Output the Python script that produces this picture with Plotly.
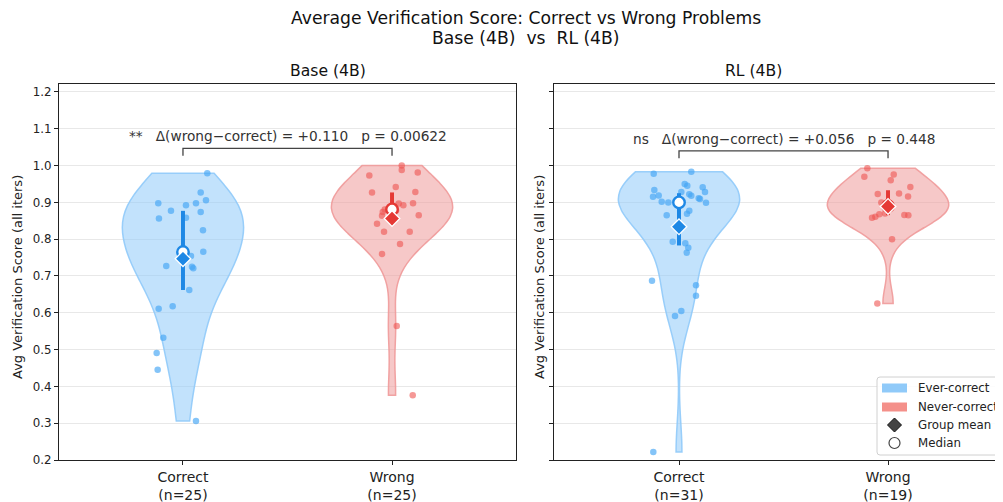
import numpy as np
import plotly.graph_objects as go

# ---------------- data ----------------
categories = ["Correct", "Wrong"]
panel_titles = ["Base (4B)", "RL (4B)"]

base_correct = [0.979, 0.927, 0.906, 0.898, 0.892, 0.898, 0.877, 0.874, 0.856, 0.858,
                0.824, 0.766, 0.754, 0.725, 0.721, 0.727, 0.662, 0.618, 0.611, 0.532,
                0.491, 0.445, 0.306, 0.765, 0.760]
base_correct_jit = [24.3, 17.7, 23, -24.7, 3, 13, -12, 17.7, -24, 3,
                    20, 20.3, 8, 9, 10.3, -16.7, 6.3, -10.3, -24.3, -19.7,
                    -26.3, -25.3, 13, 0, 2]

base_wrong = [1.0, 0.988, 0.973, 0.981, 0.942, 0.927, 0.928, 0.897, 0.892, 0.898,
              0.881, 0.874, 0.864, 0.865, 0.842, 0.820, 0.820, 0.787, 0.760, 0.564,
              0.376, 0.890, 0.885, 0.878, 0.870]
base_wrong_jit = [9.7, 9.7, -22.7, 25.7, 3.7, -20, 23.3, 6.7, 11.3, 21,
                  -7.3, -9.3, -10, 26.7, -15, -8, 17.7, 8, -10, 4.7,
                  20.7, 2, -2, 4, 0]

rl_correct = [0.978, 0.983, 0.950, 0.945, 0.941, 0.934, 0.928, 0.928, 0.919, 0.915,
              0.922, 0.918, 0.911, 0.909, 0.902, 0.900, 0.899, 0.900, 0.877, 0.869,
              0.865, 0.793, 0.789, 0.777, 0.763, 0.687, 0.675, 0.646, 0.605, 0.591,
              0.222]
rl_correct_jit = [-25.3, 12.3, 5.7, 8.3, 23.7, -24.7, 26, 2.3, -20.3, -26,
                  10.3, 12.3, 19.7, 21, -17.3, -10.7, 27, 0, 10.3, 8,
                  -12.3, -6.3, 6.3, 9.3, 7.7, -27, 17, 17, 2.3, -4,
                  -25.7]

rl_wrong = [0.993, 0.970, 0.976, 0.960, 0.942, 0.924, 0.916, 0.923, 0.900, 0.866,
            0.865, 0.858, 0.861, 0.868, 0.800, 0.625, 0.890, 0.885, 0.870]
rl_wrong_jit = [-20.7, -23.7, 5.7, 2.7, 22.3, 11, 20, -10.3, -6.7, 16.3,
                20.3, -16, -12.7, -8.7, 4, -10.7, 0, 3, -3]

deltas = ["+0.110", "+0.056"]
pvals = ["0.00622", "0.448"]
sig = ["**", "ns"]

title_lines = ["Average Verification Score: Correct vs Wrong Problems", "Base (4B)  vs  RL (4B)"]
y_title = "Avg Verification Score (all iters)"
y_ticks = [0.2, 0.3, 0.4, 0.5, 0.6, 0.7, 0.8, 0.9, 1.0, 1.1, 1.2]
legend_labels = ["Ever-correct", "Never-correct", "Group mean", "Median"]

# ---------------- styles ----------------
FONT = "DejaVu Sans"
BLUE_FILL = "rgba(144,202,249,0.55)"
BLUE_EDGE = "rgba(144,202,249,0.9)"
BLUE_PT = "rgba(66,165,245,0.65)"
BLUE_DARK = "#1E88E5"
RED_FILL = "rgba(239,154,154,0.55)"
RED_EDGE = "rgba(239,154,154,0.9)"
RED_PT = "rgba(239,83,80,0.6)"
RED_DARK = "#E53935"
PX_PER_UNIT = 209.0

# page is offset by the default 8px body margin; figure covers the visible rest
OFF = 8
W = 1003 - OFF
H = 502 - OFF
TOP = 84 - OFF       # plot top in figure px
BOT = H - (460 - OFF)  # bottom margin

def px(x):  # reference screen x -> paper x
    return (x - OFF) / W

def py(y):  # reference screen y -> paper y
    return (460 - y) / (460 - 84)

panels = [
    [(base_correct, base_correct_jit), (base_wrong, base_wrong_jit)],
    [(rl_correct, rl_correct_jit), (rl_wrong, rl_wrong_jit)],
]
styles = [(BLUE_FILL, BLUE_EDGE, BLUE_PT, BLUE_DARK), (RED_FILL, RED_EDGE, RED_PT, RED_DARK)]

fig = go.Figure()

for p, groups in enumerate(panels):
    xa = "x" if p == 0 else "x2"
    ya = "y" if p == 0 else "y2"
    for g, (vals, jit) in enumerate(groups):
        v = np.array(vals, dtype=float)
        fill, edge, ptc, dark = styles[g]
        bw = float(np.std(v, ddof=1) * len(v) ** (-0.2))
        fig.add_trace(go.Violin(
            x=[g] * len(v), y=v.tolist(), xaxis=xa, yaxis=ya,
            width=0.58, scalemode="width", spanmode="hard", bandwidth=bw,
            points=False, box=dict(visible=False), meanline=dict(visible=False),
            fillcolor=fill, line=dict(color=edge, width=1.5),
            showlegend=False, hoverinfo="skip",
        ))
        fig.add_trace(go.Scatter(
            x=[g + j / PX_PER_UNIT for j in jit], y=v.tolist(), xaxis=xa, yaxis=ya,
            mode="markers", marker=dict(color=ptc, size=6.5, line=dict(width=0)),
            showlegend=False, hoverinfo="skip",
        ))
        q1, med, q3 = [float(q) for q in np.percentile(v, [25, 50, 75])]
        fig.add_trace(go.Scatter(
            x=[g, g], y=[q1, q3], xaxis=xa, yaxis=ya, mode="lines",
            line=dict(color=dark, width=4), showlegend=False, hoverinfo="skip",
        ))
        fig.add_trace(go.Scatter(
            x=[g], y=[med], xaxis=xa, yaxis=ya, mode="markers",
            marker=dict(symbol="circle", size=11.5, color="white", line=dict(color=dark, width=2.4)),
            showlegend=False, hoverinfo="skip",
        ))
        fig.add_trace(go.Scatter(
            x=[g], y=[float(v.mean())], xaxis=xa, yaxis=ya, mode="markers",
            marker=dict(symbol="diamond", size=12, color=dark, line=dict(color="white", width=1.3)),
            showlegend=False, hoverinfo="skip",
        ))
    # significance bracket
    top = max(max(groups[0][0]), max(groups[1][0]))
    yb = top + 0.047
    fig.add_trace(go.Scatter(
        x=[0, 0, 1, 1], y=[yb - 0.02, yb, yb, yb - 0.02], xaxis=xa, yaxis=ya,
        mode="lines", line=dict(color="#444444", width=1.3), showlegend=False, hoverinfo="skip",
    ))
    fig.add_annotation(
        x=0.5, y=yb + 0.006, xref=xa, yref=ya, yanchor="bottom", showarrow=False,
        text=f"{sig[p]}   Δ(wrong−correct) = {deltas[p]}   p = {pvals[p]}",
        font=dict(family=FONT, size=13.7, color="#333333"),
    )

def axis_common(tsize):
    return dict(
        showline=True, mirror=True, linecolor="#222222", linewidth=1.2,
        ticks="outside", ticklen=4, tickcolor="#222222",
        tickfont=dict(family=FONT, size=tsize, color="#222222"),
        zeroline=False,
    )

D1 = [px(59), px(516)]
D2 = [px(554), 1.0]
fig.update_layout(
    xaxis=dict(domain=D1, range=[-0.593, 1.593], tickmode="array", tickvals=[0, 1],
               ticktext=[f"{c}<br>(n={len(panels[0][i][0])})" for i, c in enumerate(categories)],
               showgrid=False, anchor="y", **axis_common(14)),
    xaxis2=dict(domain=D2, range=[-0.598, 1.55], tickmode="array", tickvals=[0, 1],
                ticktext=[f"{c}<br>(n={len(panels[1][i][0])})" for i, c in enumerate(categories)],
                showgrid=False, anchor="y2", **axis_common(14)),
    yaxis=dict(range=[0.2, 1.2217], tickmode="array", tickvals=y_ticks,
               ticktext=[f"{t:.1f}" for t in y_ticks], showgrid=True, gridcolor="#e8e8e8",
               gridwidth=1, anchor="x", **axis_common(11.8)),
    yaxis2=dict(range=[0.2, 1.2217], tickmode="array", tickvals=y_ticks, showticklabels=False,
                showgrid=True, gridcolor="#e8e8e8", gridwidth=1,
                anchor="x2", **axis_common(11.8)),
    violinmode="overlay",
    width=W, height=H,
    margin=dict(l=0, r=0, t=TOP, b=BOT, autoexpand=False),
    plot_bgcolor="white", paper_bgcolor="white",
    showlegend=False,
    font=dict(family=FONT, color="#222222"),
)

# titles
for line, yc in zip(title_lines, (18.2, 38.4)):
    fig.add_annotation(x=px(525.5), y=1, xref="paper", yref="paper", yanchor="middle",
                       yshift=84 - yc, text=line, showarrow=False,
                       font=dict(family=FONT, size=17.2, color="#111111"))
for p, t in enumerate(panel_titles):
    xc = (59 + 516) / 2 if p == 0 else (554 + 888 + 125) / 2
    fig.add_annotation(x=px(xc), y=1, xref="paper", yref="paper", yanchor="middle",
                       yshift=84 - 71, text=t, showarrow=False,
                       font=dict(family=FONT, size=15.6, color="#111111"))
for xp in (17, 539):
    fig.add_annotation(x=px(xp), y=py(277), xref="paper", yref="paper", textangle=-90,
                       text=y_title, showarrow=False, xanchor="center", yanchor="middle",
                       font=dict(family=FONT, size=13, color="#222222"))

# custom legend
x0, x1, y0, y1, r = 877, 1012, 377, 455, 3
box = (f"M {px(x0 + r)} {py(y0)} L {px(x1 - r)} {py(y0)} Q {px(x1)} {py(y0)} {px(x1)} {py(y0 + r)} "
       f"L {px(x1)} {py(y1 - r)} Q {px(x1)} {py(y1)} {px(x1 - r)} {py(y1)} "
       f"L {px(x0 + r)} {py(y1)} Q {px(x0)} {py(y1)} {px(x0)} {py(y1 - r)} "
       f"L {px(x0)} {py(y0 + r)} Q {px(x0)} {py(y0)} {px(x0 + r)} {py(y0)} Z")
fig.add_shape(type="path", xref="paper", yref="paper", path=box,
              line=dict(color="#d0d0d0", width=1), fillcolor="rgba(255,255,255,0.85)", layer="above")
leg_y = [388, 407, 425, 443]
fig.add_shape(type="rect", xref="paper", yref="paper", x0=px(882), x1=px(907),
              y0=py(392.5), y1=py(383.5), line=dict(width=0), fillcolor="#90CAF9", layer="above")
fig.add_shape(type="rect", xref="paper", yref="paper", x0=px(882), x1=px(907),
              y0=py(411.5), y1=py(402.5), line=dict(width=0), fillcolor="#F4908A", layer="above")
cx, cy = 894.5, 425
dpath = (f"M {px(cx)} {py(cy - 7)} L {px(cx + 7)} {py(cy)} L {px(cx)} {py(cy + 7)} "
         f"L {px(cx - 7)} {py(cy)} Z")
fig.add_shape(type="path", xref="paper", yref="paper", path=dpath,
              line=dict(color="#111111", width=1), fillcolor="#444444", layer="above")
fig.add_shape(type="circle", xref="paper", yref="paper",
              x0=px(cx - 5.5), x1=px(cx + 5.5), y0=py(443 + 5.5), y1=py(443 - 5.5),
              line=dict(color="#444444", width=1.2), fillcolor="white", layer="above")
for lab, yy in zip(legend_labels, leg_y):
    fig.add_annotation(x=px(916), y=py(yy), xref="paper", yref="paper", xanchor="left",
                       yanchor="middle", text=lab, showarrow=False,
                       font=dict(family=FONT, size=11.8, color="#222222"))

fig.write_html("out.html")
